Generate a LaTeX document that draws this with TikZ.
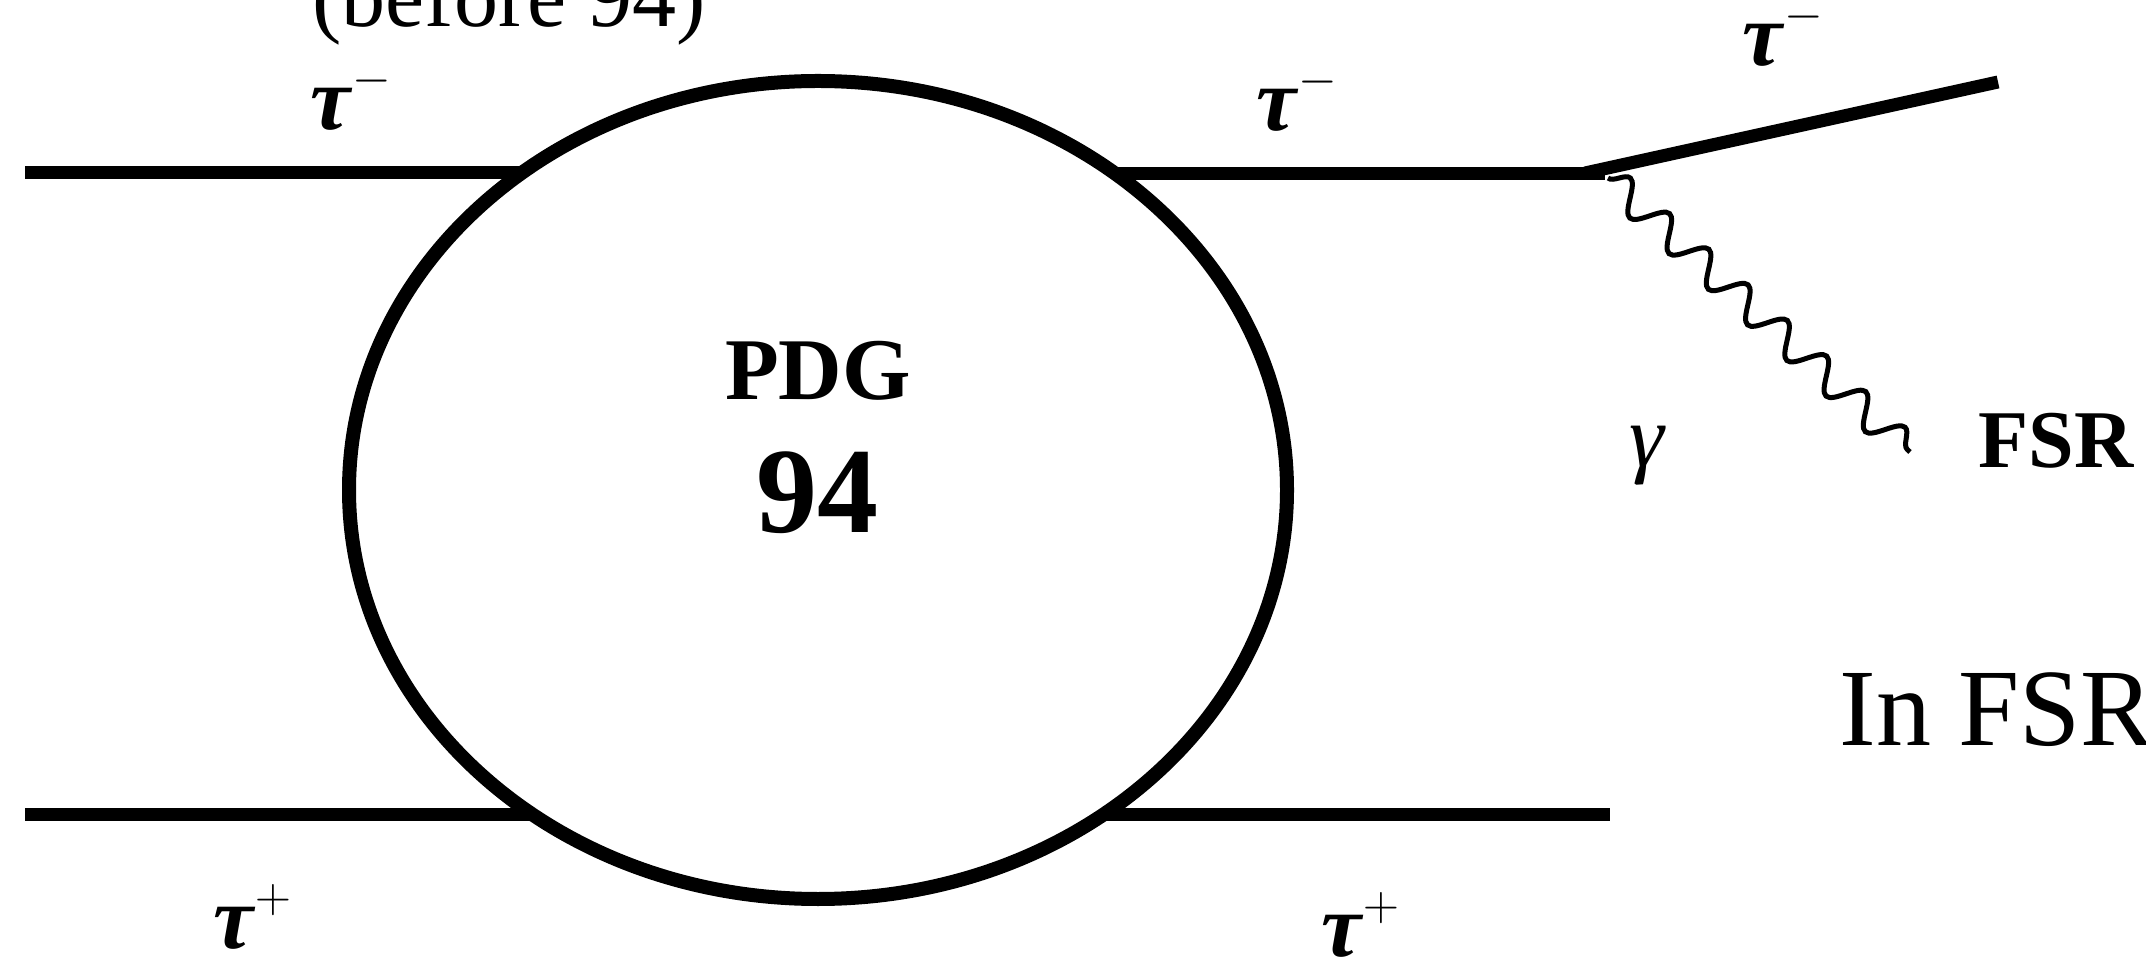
\documentclass[tikz,border=0pt]{standalone}
\usepackage{fontspec}
\setmainfont{Liberation Serif}
\usetikzlibrary{shapes.geometric,decorations.pathmorphing}
\newcommand{\taulab}[1]{{\fontsize{45}{54}\selectfont\bfseries\itshape τ}\kern1pt\raisebox{18pt}{\fontsize{25}{30}\selectfont$\mathbf{#1}$}}
\begin{document}
\begin{tikzpicture}[x=0.5pt,y=-0.5pt,
  fermion/.style={line width=6.5pt},
  photon/.style={line width=2.5pt, decorate, decoration={snake, segment length=26.5pt, amplitude=7.5pt}},
  lab/.style={inner sep=0pt, anchor=base west}]
\useasboundingbox (0,0) rectangle (2146,961);
% external legs
\coordinate (aTL) at (25,173);
\coordinate (bTL) at (600,173);
\coordinate (aBL) at (25,814);
\coordinate (bBL) at (600,814);
\coordinate (cTR) at (1040,174);
\coordinate (hTR) at (1605,174);
\coordinate (vtx) at (1585,173);
\coordinate (out) at (1998,82);
\coordinate (cBR) at (1040,814);
\coordinate (dBR) at (1610,814);
\coordinate (gst) at (1608,178);
\coordinate (gend) at (1910,452);
\draw[fermion] (aTL) -- (bTL);
\draw[fermion] (aBL) -- (bBL);
\draw[fermion] (cTR) -- (hTR);
\draw[fermion] (vtx) -- (out);
\draw[fermion] (cBR) -- (dBR);
\draw[photon] (gst) -- (gend);
% blob
\node[draw, ellipse, line width=7pt, fill=white, minimum width=469pt, minimum height=409pt, inner sep=0pt] (blob) at (818,490) {};
\node[inner sep=0pt, anchor=base] (pdg) at (818,400) {\fontsize{44}{50}\selectfont\bfseries PDG};
\node[inner sep=0pt, anchor=base] (num) at (817,533) {\fontsize{61}{70}\selectfont\bfseries 94};
% labels
\node[lab] (before) at (312,27) {\fontsize{44}{50}\selectfont (before 94)};
\node[lab] (tTL) at (310,130) {\taulab{-}};
\node[lab] (tTM) at (1256,131) {\taulab{-}};
\node[lab] (tTR) at (1742,66) {\taulab{-}};
\node[lab] (tBL) at (213,948) {\taulab{+}};
\node[lab] (tBR) at (1321,956) {\taulab{+}};
\node[lab] (gam) at (1629,467) {\fontsize{44}{50}\selectfont\itshape γ};
\node[lab] (fsr) at (1978,468) {\fontsize{41}{48}\selectfont\bfseries FSR};
\node[lab] (infsr) at (1839,745) {\fontsize{55}{64}\selectfont In FSR};
\end{tikzpicture}
\end{document}
